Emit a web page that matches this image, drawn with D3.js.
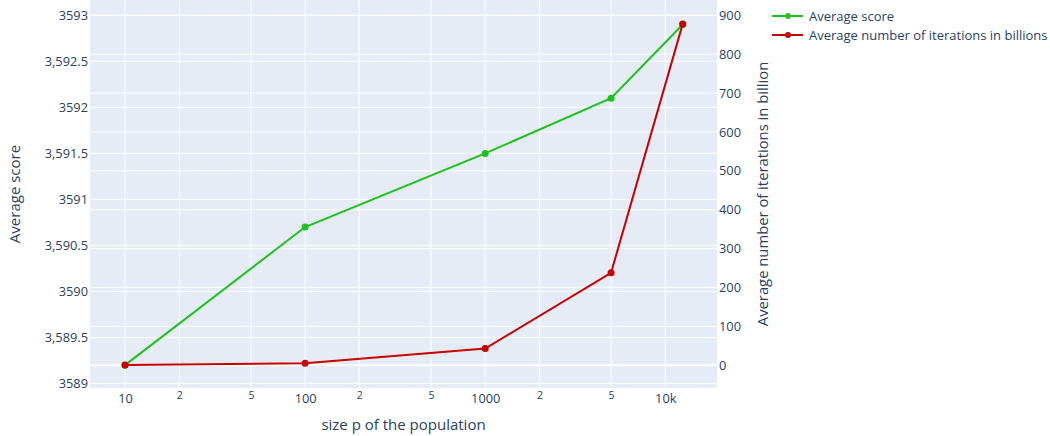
<!DOCTYPE html>
<html>
<head>
<meta charset="utf-8">
<script src="https://cdn.jsdelivr.net/npm/d3@7"></script>
<style>
  body { margin: 0; background: #fff; }
  text { font-family: "Open Sans", verdana, arial, sans-serif; fill: #2a3f5f; }
</style>
</head>
<body>
<div id="canvas"></div>
<script>
// data
const popSizes = [10, 100, 1000, 5000, 12500];
const avgScore = [3589.2, 3590.7, 3591.5, 3592.1, 3592.9];
const avgIterations = [0.5, 5, 43, 238, 878];

const seriesNames = ["Average score", "Average number of iterations in billions"];

const xTicks = [10, 20, 50, 100, 200, 500, 1000, 2000, 5000, 10000];
const xTickLabels = ["10", "2", "5", "100", "2", "5", "1000", "2", "5", "10k"];
const yTicks = [3589, 3589.5, 3590, 3590.5, 3591, 3591.5, 3592, 3592.5, 3593];
const yTickLabels = ["3589", "3,589.5", "3590", "3,590.5", "3591", "3,591.5", "3592", "3,592.5", "3593"];
const y2Ticks = [0, 100, 200, 300, 400, 500, 600, 700, 800, 900];

const width = 1050;
const height = 436;
const margin = { top: 0, left: 90, bottom: 48, right: 333 };
const iwidth = width - margin.left - margin.right;
const iheight = height - margin.top - margin.bottom;

const green = "#1dc21d";
const red = "#c80000";

const svg = d3.select("#canvas").append("svg")
  .attr("width", width)
  .attr("height", height);

const g = svg.append("g")
  .attr("transform", `translate(${margin.left},${margin.top})`);

const x = d3.scaleLog().domain([6.39, 19370]).range([0, iwidth]);
const y = d3.scaleLinear().domain([3588.952, 3593.166]).range([iheight, 0]);
const y2 = d3.scaleLinear().domain([-58.4, 939.4]).range([iheight, 0]);

g.append("rect")
  .attr("width", iwidth)
  .attr("height", iheight)
  .attr("fill", "#e5ecf6");

// grid
g.selectAll(".xgrid").data(xTicks).enter().append("line")
  .attr("x1", (d) => x(d)).attr("x2", (d) => x(d))
  .attr("y1", 0).attr("y2", iheight)
  .attr("stroke", "#fff").attr("stroke-width", 1);

g.selectAll(".ygrid").data(yTicks).enter().append("line")
  .attr("x1", 0).attr("x2", iwidth)
  .attr("y1", (d) => y(d)).attr("y2", (d) => y(d))
  .attr("stroke", "#fff").attr("stroke-width", 1);

g.selectAll(".y2grid").data(y2Ticks).enter().append("line")
  .attr("x1", 0).attr("x2", iwidth)
  .attr("y1", (d) => y2(d)).attr("y2", (d) => y2(d))
  .attr("stroke", "#fff").attr("stroke-width", (d) => (d === 0 ? 2 : 1));

// axes
const xAxis = g.append("g")
  .attr("transform", `translate(0, ${iheight})`)
  .call(d3.axisBottom(x).tickValues(xTicks).tickSize(0).tickPadding(6)
    .tickFormat((d, i) => xTickLabels[i]));
xAxis.select(".domain").remove();
xAxis.selectAll("text")
  .style("font-size", (d, i) => (i % 3 === 0 ? "12.8px" : "10.5px"))
  .attr("dy", (d, i) => (i % 3 === 0 ? "0.71em" : "0.5em"));

const yAxis = g.append("g")
  .call(d3.axisLeft(y).tickValues(yTicks).tickSize(0).tickPadding(2)
    .tickFormat((d, i) => yTickLabels[i]));
yAxis.select(".domain").remove();
yAxis.selectAll("text").style("font-size", "12.8px");

const y2Axis = g.append("g")
  .attr("transform", `translate(${iwidth}, 0)`)
  .call(d3.axisRight(y2).tickValues(y2Ticks).tickSize(0).tickPadding(2));
y2Axis.select(".domain").remove();
y2Axis.selectAll("text").style("font-size", "12.8px");

// axis titles
svg.append("text")
  .attr("x", margin.left + iwidth / 2)
  .attr("y", 430)
  .attr("text-anchor", "middle")
  .style("font-size", "15px")
  .text("size p of the population");

svg.append("text")
  .attr("transform", `translate(20, ${margin.top + iheight / 2}) rotate(-90)`)
  .attr("text-anchor", "middle")
  .style("font-size", "15px")
  .text("Average score");

svg.append("text")
  .attr("transform", `translate(768, ${margin.top + iheight / 2}) rotate(-90)`)
  .attr("text-anchor", "middle")
  .style("font-size", "14.8px")
  .text("Average number of iterations in billion");

// lines
const scorePts = popSizes.map((p, i) => [p, avgScore[i]]);
const iterPts = popSizes.map((p, i) => [p, avgIterations[i]]);

g.append("path")
  .datum(scorePts)
  .attr("fill", "none")
  .attr("stroke", green)
  .attr("stroke-width", 2)
  .attr("d", d3.line().x((d) => x(d[0])).y((d) => y(d[1])));

g.selectAll(".scoreDot").data(scorePts).enter().append("circle")
  .attr("cx", (d) => x(d[0]))
  .attr("cy", (d) => y(d[1]))
  .attr("r", 3.5)
  .attr("fill", green);

g.append("path")
  .datum(iterPts)
  .attr("fill", "none")
  .attr("stroke", red)
  .attr("stroke-width", 2)
  .attr("d", d3.line().x((d) => x(d[0])).y((d) => y2(d[1])));

g.selectAll(".iterDot").data(iterPts).enter().append("circle")
  .attr("cx", (d) => x(d[0]))
  .attr("cy", (d) => y2(d[1]))
  .attr("r", 3.5)
  .attr("fill", red);

// legend
const legend = svg.append("g").attr("transform", "translate(772, 16)");
const colors = [green, red];
seriesNames.forEach((name, i) => {
  const row = legend.append("g").attr("transform", `translate(0, ${i * 19})`);
  row.append("line")
    .attr("x1", 0).attr("x2", 31)
    .attr("stroke", colors[i]).attr("stroke-width", 2);
  row.append("circle").attr("cx", 16).attr("r", 3).attr("fill", colors[i]);
  row.append("text")
    .attr("x", 37)
    .attr("dy", "0.35em")
    .style("font-size", "13px")
    .text(name);
});
</script>
</body>
</html>
